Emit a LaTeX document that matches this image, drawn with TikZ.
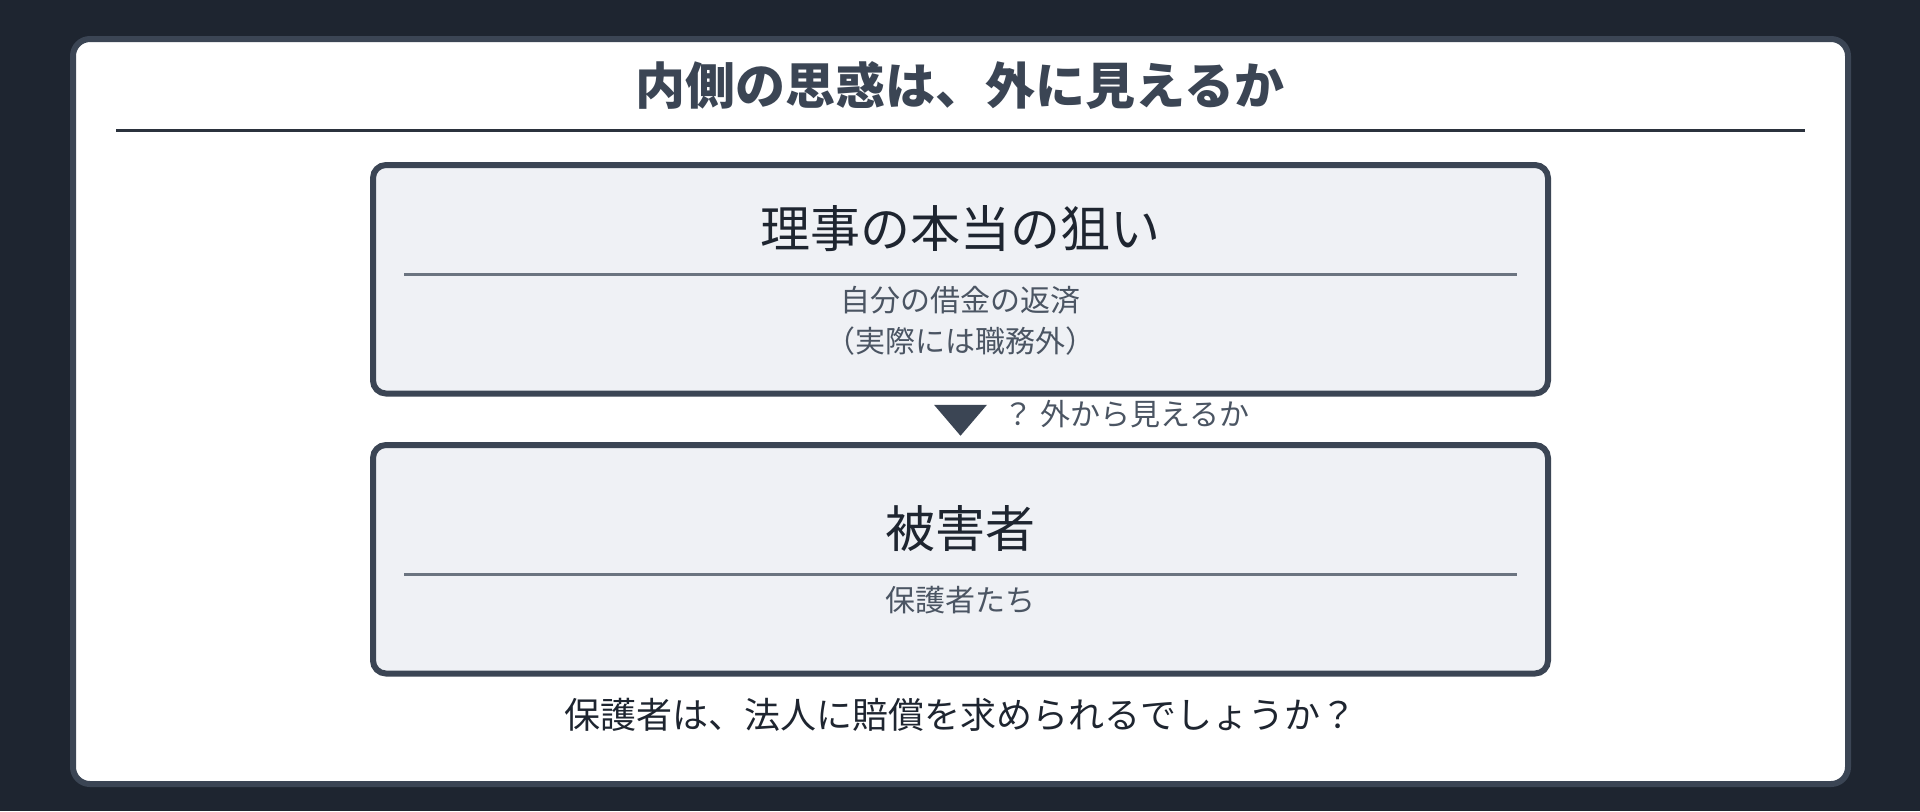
\documentclass[tikz,border=0pt]{standalone}
\usepackage{fontspec}
\setmainfont{Noto Sans CJK JP}
\usetikzlibrary{positioning, calc}
\definecolor{bgdark}{HTML}{1E2530}
\definecolor{slate}{HTML}{3B4554}
\definecolor{boxfill}{HTML}{EFF1F5}
\definecolor{inkdark}{HTML}{1E2530}
\definecolor{rulemark}{HTML}{2B323D}
\definecolor{subgray}{HTML}{4B5563}
\definecolor{rulegray}{HTML}{6B7480}

\begin{document}
\begin{tikzpicture}[x=0.5pt, y=-0.5pt,
card/.style={draw=slate, line width=3pt, fill=white, rounded corners=8.5pt, minimum width=887.5pt, minimum height=372.5pt, inner sep=0pt, outer sep=0pt},
panel/.style={draw=slate, line width=3pt, fill=boxfill, rounded corners=6.5pt, minimum width=587.5pt, minimum height=114.25pt, inner sep=0pt},
headline/.style={text=slate, font=\fontsize{25}{30}\selectfont\bfseries, inner sep=0pt},
paneltitle/.style={text=inkdark, font=\fontsize{25}{30}\selectfont, inner sep=0pt},
panelnote/.style={text=subgray, font=\fontsize{15}{20.5}\selectfont, align=center, inner sep=0pt},
question/.style={text=inkdark, font=\fontsize{18}{22}\selectfont, inner sep=0pt}]
\useasboundingbox (0,0) rectangle (1920,811);
\fill[bgdark] (0,0) rectangle (1920,811);
\node[card] (card) at (960.5,411.5) {};
\node[headline] (head) at (960,86) {内側の思惑は、外に見えるか};
\draw[rulemark, line width=1.5pt] (116,130.5) -- (1805,130.5);
% upper panel
\node[panel] (aim) at (960.5,279.25) {};
\node[paneltitle] (aimtitle) at ($(aim.north)+(0,67)$) {理事の本当の狙い};
\draw[rulegray, line width=1.5pt] ($(aim.north west)+(34,112.5)$) -- ($(aim.north east)+(-34,112.5)$);
\node[panelnote] (aimnote) at ($(aim.north)+(0,158.5)$) {自分の借金の返済\\（実際には職務外）};
% lower panel
\node[panel] (victim) at (960.5,559.25) {};
\node[paneltitle] (victimtitle) at ($(victim.north)+(0,87)$) {被害者};
\draw[rulegray, line width=1.5pt] ($(victim.north west)+(34,132.5)$) -- ($(victim.north east)+(-34,132.5)$);
\node[panelnote] (victimnote) at ($(victim.north)+(0,158)$) {保護者たち};
% marker between panels
\coordinate (mid) at ($(aim.south)!0.5!(victim.north)$);
\fill[slate] ($(mid)+(-26.5,-14.5)$) -- ($(mid)+(26.5,-14.5)$) -- ($(mid)+(0,16.5)$) -- cycle;
\node[panelnote, anchor=west] (seen) at ($(mid)+(43,-5)$) {？ 外から見えるか};
\node[question] (ask) at (960,715) {保護者は、法人に賠償を求められるでしょうか？};
\end{tikzpicture}
\end{document}
